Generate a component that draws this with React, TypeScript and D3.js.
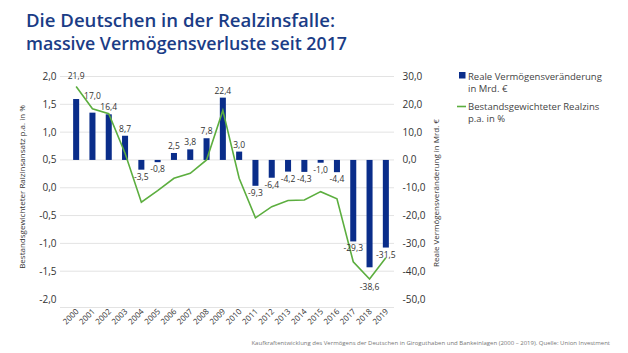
import React from "react";
import * as d3 from "d3";

const years = ["2000","2001","2002","2003","2004","2005","2006","2007","2008","2009","2010","2011","2012","2013","2014","2015","2016","2017","2018","2019"];
const vermoegen = [21.9, 17.0, 16.4, 8.7, -3.5, -0.8, 2.5, 3.8, 7.8, 22.4, 3.0, -9.3, -6.4, -4.2, -4.3, -1.0, -4.4, -29.3, -38.6, -31.5];
const realzins = [1.82, 1.42, 1.33, 0.62, -0.26, -0.05, 0.17, 0.26, 0.5, 1.39, 0.17, -0.54, -0.34, -0.23, -0.22, -0.07, -0.2, -1.33, -1.64, -1.26];
const leftTicks = [2, 1.5, 1, 0.5, 0, -0.5, -1, -1.5, -2];
const rightTicks = [30, 20, 10, 0, -10, -20, -30, -40, -50];

const titleLines = ["Die Deutschen in der Realzinsfalle:", "massive Vermögensverluste seit 2017"];
const legendBar = ["Reale Vermögensveränderung", "in Mrd. €"];
const legendLine = ["Bestandsgewichteter Realzins", "p.a. in %"];
const leftTitle = "Bestandsgewichteter Ralzinsansatz p.a. in %";
const rightTitle = "Reale Vermögensveränderung in Mrd. €";
const footer = "Kaufkraftentwicklung des Vermögens der Deutschen in Giroguthaben und Bankeinlagen (2000 – 2019). Quelle: Union Investment";

const BLUE = "#0a2d8a";
const GREEN = "#5cae3f";
const FONT = "'Open Sans', 'Noto Sans', sans-serif";

const fmt = (v: number) => d3.format(".1f")(v).replace(".", ",").replace("−", "-");

export default function App() {
  const x = d3.scaleBand<string>().domain(years).range([68, 394]).paddingInner(0.63).paddingOuter(0.315);
  const yL = d3.scaleLinear().domain([-2, 2]).range([299, 76.5]);
  const yR = d3.scaleLinear().domain([-50, 30]).range([299, 76.5]);
  const cx = (y: string) => (x(y) as number) + x.bandwidth() / 2;
  const line = d3.line<number>().x((_, i) => cx(years[i])).y((d) => yL(d));
  const labelShift: Record<string, number> = { "2000": -16, "2001": -10, "2018": 13 };
  const titleWidths = [309, 321];

  return (
    <svg width={628} height={353} style={{ position: "absolute", left: 0, top: 0, background: "#fff" }} fontFamily={FONT}>
      {titleLines.map((t, i) => (
        <text key={t} x={26} y={26.5 + i * 23} fill="#1a3c86" fontSize={18.5} fontWeight={600} textLength={titleWidths[i]} lengthAdjust="spacingAndGlyphs">{t}</text>
      ))}
      {leftTicks.filter((t) => t > -2).map((t) => (
        <line key={"g" + t} x1={60} x2={394} y1={yL(t)} y2={yL(t)} stroke="#e3e3e3" strokeWidth={1} />
      ))}
      <line x1={60} x2={394} y1={307.5} y2={307.5} stroke="#e3e3e3" strokeWidth={1} />
      {leftTicks.map((t) => (
        <text key={"l" + t} x={56.5} y={yL(t) + 3.5} textAnchor="end" fontSize={10} fill="#333">{fmt(t)}</text>
      ))}
      {rightTicks.map((t) => (
        <text key={"r" + t} x={402.5} y={yR(t) + 3.5} textAnchor="start" fontSize={10} fill="#333">{fmt(t)}</text>
      ))}
      <text transform={`translate(25,187) rotate(-90)`} textAnchor="middle" fontSize={8} fill="#333">{leftTitle}</text>
      <text transform={`translate(439,193) rotate(-90)`} textAnchor="middle" fontSize={8} fill="#333">{rightTitle}</text>
      {vermoegen.map((v, i) => (
        <rect key={"b" + i} x={x(years[i])} width={x.bandwidth()} y={yR(Math.max(0, v))} height={Math.abs(yR(v) - yR(0))} fill={BLUE} />
      ))}
      <path d={line(realzins) || ""} fill="none" stroke={GREEN} strokeWidth={1.6} />
      {vermoegen.map((v, i) => {
        const yy = v >= 0 ? yR(v) - 4 + (labelShift[years[i]] || 0) : yR(v) + 10 + (labelShift[years[i]] || 0);
        return (
          <text key={"lb" + i} x={cx(years[i])} y={yy} textAnchor="middle" fontSize={8.5} fill="#333">{fmt(v)}</text>
        );
      })}
      {years.map((y) => (
        <text key={"x" + y} transform={`translate(${cx(y) + 3},312) rotate(-45)`} textAnchor="end" fontSize={8} fill="#333">{y}</text>
      ))}
      <rect x={459} y={72} width={6.5} height={6.5} fill={BLUE} />
      {legendBar.map((t, i) => (
        <text key={"lg1" + i} x={468} y={80 + i * 12} fontSize={9.5} fill="#444">{t}</text>
      ))}
      <line x1={457} x2={466} y1={106.5} y2={106.5} stroke={GREEN} strokeWidth={1.6} />
      {legendLine.map((t, i) => (
        <text key={"lg2" + i} x={468} y={110 + i * 12} fontSize={9.5} fill="#444">{t}</text>
      ))}
      <text x={610} y={345} textAnchor="end" fontSize={6} fill="#777">{footer}</text>
    </svg>
  );
}
